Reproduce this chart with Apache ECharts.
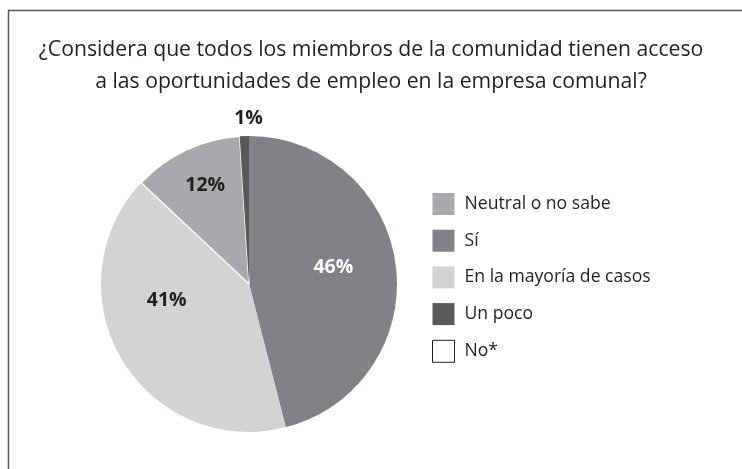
<!DOCTYPE html>
<html>
<head>
<meta charset="utf-8">
<script src="https://cdn.jsdelivr.net/npm/echarts@6/dist/echarts.min.js"></script>
<style>
  html, body { margin: 0; padding: 0; background: #fff; }
  #chart { width: 742px; height: 469px; }
</style>
</head>
<body>
<div id="chart"></div>
<script>
// datos en orden horario desde arriba
const categories = ['Sí', 'En la mayoría de casos', 'Neutral o no sabe', 'Un poco', 'No*'];
const values = [46, 41, 12, 1, 0];
const legendOrder = ['Neutral o no sabe', 'Sí', 'En la mayoría de casos', 'Un poco', 'No*'];

const colors = ['#818285', '#d1d3d4', '#a7a9ac', '#58595b', '#ffffff'];
const labelColors = ['#ffffff', '#231f20', '#231f20', '#231f20', '#231f20'];
// desplazamiento de etiquetas respecto a la posición "inside"
const labelNudge = [[8, -7], [-16, -23], [-11, -29], [2, -89], [0, 0]];

const chart = echarts.init(document.getElementById('chart'));

const option = {
  backgroundColor: '#fff',
  animation: false,
  title: {
    text: '¿Considera que todos los miembros de la comunidad tienen acceso\na las oportunidades de empleo en la empresa comunal?',
    left: 'center',
    top: 29,
    textStyle: {
      fontFamily: 'Open Sans',
      fontSize: 21.2,
      fontWeight: 'normal',
      color: '#231f20',
      lineHeight: 32,
      align: 'center'
    }
  },
  legend: {
    orient: 'vertical',
    left: 432,
    top: 193,
    padding: 0,
    itemWidth: 22,
    itemHeight: 22,
    itemGap: 14.7,
    selectedMode: false,
    textStyle: {
      fontFamily: 'Open Sans',
      fontSize: 17.6,
      color: '#231f20',
      padding: [0, 0, 0, 5]
    },
    data: legendOrder.map(name => ({
      name: name,
      icon: 'rect',
      itemStyle: name === 'No*'
        ? { color: '#ffffff', borderColor: '#231f20', borderWidth: 1 }
        : { borderWidth: 0 }
    }))
  },
  graphic: [{
    type: 'rect',
    shape: { x: 8.5, y: 10.5, width: 800, height: 600 },
    style: { fill: 'none', stroke: '#5a5a5a', lineWidth: 1.5 },
    silent: true
  }],
  series: [{
    type: 'pie',
    center: [249, 284],
    radius: 148,
    startAngle: 90,
    clockwise: true,
    avoidLabelOverlap: false,
    label: {
      show: true,
      position: 'inside',
      formatter: '{c}%',
      fontFamily: 'Open Sans',
      fontSize: 19.5,
      fontWeight: 'bold'
    },
    labelLine: { show: false },
    labelLayout: function (params) {
      const n = labelNudge[params.dataIndex] || [0, 0];
      return { dx: n[0], dy: n[1] };
    },
    emphasis: { disabled: true },
    data: categories.map((name, i) => ({
      name: name,
      value: values[i],
      itemStyle: {
        color: colors[i],
        borderColor: '#ffffff',
        borderWidth: name === 'Neutral o no sabe' ? 1.5 : 0
      },
      label: {
        show: values[i] > 0,
        color: labelColors[i]
      }
    }))
  }]
};

chart.setOption(option);
</script>
</body>
</html>
